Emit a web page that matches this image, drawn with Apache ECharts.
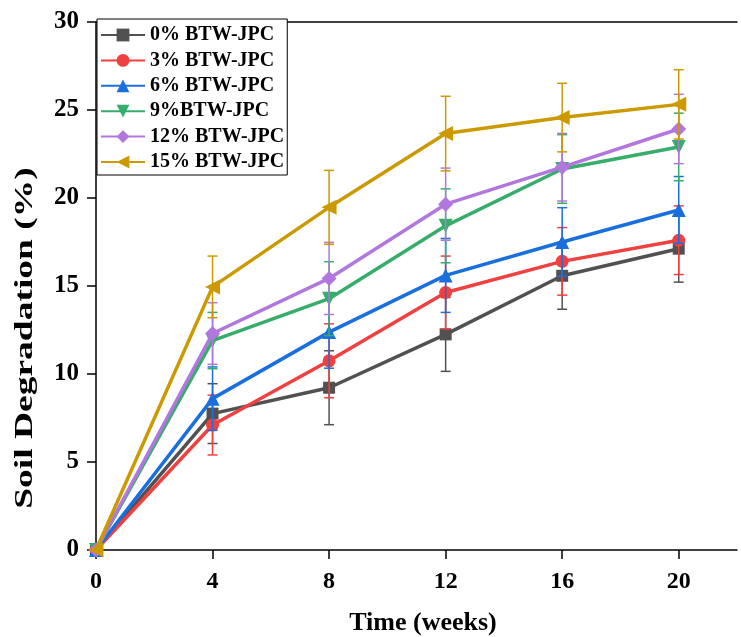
<!DOCTYPE html>
<html>
<head>
<meta charset="utf-8">
<script src="https://cdn.jsdelivr.net/npm/echarts@6/dist/echarts.min.js"></script>
<style>html,body{margin:0;padding:0;background:#fff}#c{width:741px;height:637px}</style>
</head>
<body>
<div id="c"></div>
<script>
var weeks = [0, 4, 8, 12, 16, 20];
var xTicks = [0, 4, 8, 12, 16, 20];
var names = ['0% BTW-JPC', '3% BTW-JPC', '6% BTW-JPC', '9%BTW-JPC', '12% BTW-JPC', '15% BTW-JPC'];
var s0 = [0, 7.75, 9.22, 12.25, 15.58, 17.12];
var s3 = [0, 7.1, 10.75, 14.63, 16.4, 17.6];
var s6 = [0, 8.6, 12.38, 15.6, 17.5, 19.32];
var s9 = [0, 11.9, 14.28, 18.42, 21.65, 22.9];
var s12 = [0, 12.3, 15.43, 19.65, 21.75, 23.92];
var s15 = [0, 14.95, 19.47, 23.66, 24.57, 25.32];
var e0 = [0, 1.7, 2.1, 2.1, 1.9, 1.9];
var e3 = [0, 1.7, 2.1, 2.07, 1.92, 1.95];
var e6 = [0, 1.8, 2.05, 2.1, 1.95, 1.9];
var e9 = [0, 1.6, 2.1, 2.1, 1.95, 1.92];
var e12 = [0, 1.75, 2.05, 2.05, 1.92, 1.97];
var e15 = [0, 1.75, 2.1, 2.12, 1.95, 1.97];

var values = [s0, s3, s6, s9, s12, s15];
var errs = [e0, e3, e6, e9, e12, e15];
var colors = ['#515151', '#F14040', '#1A6FDF', '#37AD6B', '#B177DE', '#CC9900'];
var symbols = ['rect', 'circle', 'triangle', 'triangle', 'diamond', 'triangle'];
var rotates = [0, 0, 0, 180, 0, 90];
var sizes = [12, 13, 14, 14, 15, 15];

var FONT = 'Liberation Serif';
var chart = echarts.init(document.getElementById('c'));

var series = [];
for (var i = 0; i < names.length; i++) {
  (function (i) {
    var pts = weeks.map(function (w, k) { return [w, values[i][k]]; });
    series.push({
      name: names[i],
      type: 'line',
      data: pts,
      color: colors[i],
      symbol: symbols[i],
      symbolRotate: rotates[i],
      symbolSize: sizes[i],
      showAllSymbol: true,
      lineStyle: { width: 3.5, color: colors[i] },
      itemStyle: { color: colors[i] },
      z: 3 + i,
      animation: false
    });
    var ed = [];
    weeks.forEach(function (w, k) { if (errs[i][k] > 0) ed.push([w, values[i][k], errs[i][k]]); });
    series.push({
      name: names[i] + ' err',
      type: 'custom',
      data: ed,
      z: 3 + i,
      animation: false,
      renderItem: function (params, api) {
        var x = api.value(0), y = api.value(1), e = api.value(2);
        var top = api.coord([x, y + e]);
        var bot = api.coord([x, y - e]);
        var hw = 5;
        var st = { stroke: colors[i], lineWidth: 1.5 };
        return {
          type: 'group',
          children: [
            { type: 'line', shape: { x1: top[0], y1: top[1], x2: bot[0], y2: bot[1] }, style: st },
            { type: 'line', shape: { x1: top[0] - hw, y1: top[1], x2: top[0] + hw, y2: top[1] }, style: st },
            { type: 'line', shape: { x1: bot[0] - hw, y1: bot[1], x2: bot[0] + hw, y2: bot[1] }, style: st }
          ]
        };
      }
    });
  })(i);
}

chart.setOption({
  backgroundColor: '#fff',
  animation: false,
  grid: { left: 96, right: 4, top: 22, bottom: 87, containLabel: false },
  legend: {
    data: names,
    orient: 'vertical',
    left: 97,
    top: 19,
    itemWidth: 44,
    itemHeight: 16,
    itemGap: 5.4,
    padding: [6, 3, 3, 3],
    borderColor: '#000',
    borderWidth: 1,
    backgroundColor: '#fff',
    textStyle: { fontFamily: FONT, fontWeight: 'bold', fontSize: 20, color: '#000' },
    z: 20
  },
  xAxis: [{
    type: 'value',
    min: 0, max: 22, interval: 4,
    axisLine: { show: true, onZero: false, lineStyle: { color: '#000', width: 1.5 } },
    axisTick: { show: true, inside: false, length: 9, lineStyle: { color: '#000', width: 1.5 }, customValues: xTicks },
    axisLabel: { customValues: xTicks, margin: 20, fontFamily: FONT, fontWeight: 'bold', fontSize: 24, color: '#000' },
    splitLine: { show: false }
  }, {
    type: 'value', position: 'top',
    min: 0, max: 22,
    axisLine: { show: true, onZero: false, lineStyle: { color: '#000', width: 1.5 } },
    axisTick: { show: false }, axisLabel: { show: false }, splitLine: { show: false }
  }],
  yAxis: {
    type: 'value',
    min: 0, max: 30, interval: 5,
    axisLine: { show: true, onZero: false, lineStyle: { color: '#000', width: 1.5 } },
    axisTick: { show: true, inside: false, length: 9, lineStyle: { color: '#000', width: 1.5 } },
    axisLabel: { margin: 17, fontFamily: FONT, fontWeight: 'bold', fontSize: 25, color: '#000' },
    splitLine: { show: false }
  },
  graphic: [{
    type: 'text',
    x: 423, y: 623,
    style: { text: 'Time (weeks)', font: 'bold 26px "Liberation Serif"', fill: '#000', align: 'center', verticalAlign: 'middle' }
  }, {
    type: 'text',
    x: 26, y: 338,
    rotation: Math.PI / 2,
    scaleX: 1.5,
    style: { text: 'Soil Degradation (%)', font: 'bold 25px "Liberation Serif"', fill: '#000', align: 'center', verticalAlign: 'middle' }
  }],
  series: series
});
</script>
</body>
</html>
